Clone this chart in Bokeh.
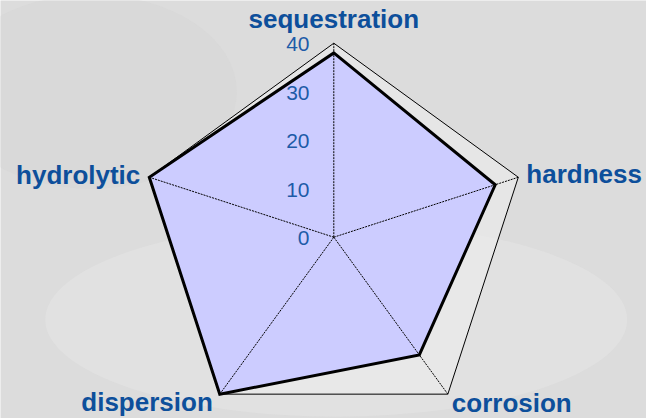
import numpy as np
from bokeh.plotting import figure
from bokeh.models import Range1d, ColumnDataSource
from bokeh.embed import file_html
from bokeh.resources import INLINE
from bokeh.core.properties import value

# ---- data ----
categories = ["sequestration", "hardness", "corrosion", "dispersion", "hydrolytic"]
values = [38, 35, 30, 40, 40]
ring_ticks = [0, 10, 20, 30, 40]
ring_labels = ["0", "10", "20", "30", "40"]
r_max = 40

# ---- geometry ----
W, H = 646, 418
scale = 194.0 / r_max          # px per unit
cx_px, cy_px = 333.3, 236.7    # centre in figure px (from top-left)
shift = -8.5                   # text vertical correction (px)

p = figure(width=W, height=H, output_backend="svg", toolbar_location=None,
           x_range=Range1d(-cx_px / scale, (W - cx_px) / scale),
           y_range=Range1d(-(H - cy_px) / scale, cy_px / scale),
           x_axis_type=None, y_axis_type=None, min_border=0,
           background_fill_color="#dcdcdc", border_fill_color="#dcdcdc",
           outline_line_color=None)
p.grid.visible = False

# subtle photo-like background shading
p.ellipse(x=[0.5], y=[-17], width=[120], height=[40], fill_color="#e3e3e3",
          line_color=None, fill_alpha=0.7)
p.ellipse(x=[-50], y=[30], width=[60], height=[40], fill_color="#d6d6d6",
          line_color=None, fill_alpha=0.5)

n = len(categories)
angles = np.pi / 2 - np.arange(n) * 2 * np.pi / n
ox = r_max * np.cos(angles)
oy = r_max * np.sin(angles)
vals = np.array(values, dtype=float)
dx = vals * np.cos(angles)
dy = vals * np.sin(angles)

# outer pentagon (light fill)
p.patch(list(ox), list(oy), fill_color="#ececec", fill_alpha=0.6, line_color=None)
# data polygon fill
p.patch(list(dx), list(dy), fill_color="#ccccff", line_color=None)
# spokes
p.segment(x0=[0] * n, y0=[0] * n, x1=list(ox), y1=list(oy),
          line_color="black", line_width=1, line_dash="2 1")
# data outline
p.patch(list(dx), list(dy), fill_color=None, line_color="black", line_width=3,
        line_join="miter")
# outer outline
p.patch(list(ox), list(oy), fill_color=None, line_color="black", line_width=1,
        line_join="miter")

# ring tick labels
p.text(x=[0] * len(ring_ticks), y=ring_ticks, text=ring_labels,
       x_offset=-24.3, y_offset=9.5 + shift, text_align="right", text_baseline="alphabetic",
       text_font=value("Liberation Sans"), text_font_size="21px", text_color="#1d5ba8")

# category labels
yo = [v + shift for v in [-15.7, 5.6, 17, 16, 6.6]]
src = ColumnDataSource(dict(
    x=list(ox), y=list(oy), text=categories,
    xo=[0, 8, 4, -7, -9], yo=yo,
    align=["center", "left", "left", "right", "right"]))
p.text(x="x", y="y", text="text", x_offset="xo", y_offset="yo", text_align="align",
       text_baseline="alphabetic", source=src,
       text_font=value("Liberation Sans"), text_font_style="bold",
       text_font_size="26px", text_color="#0d4f9b")

open("out.html", "w").write(file_html(p, INLINE))
